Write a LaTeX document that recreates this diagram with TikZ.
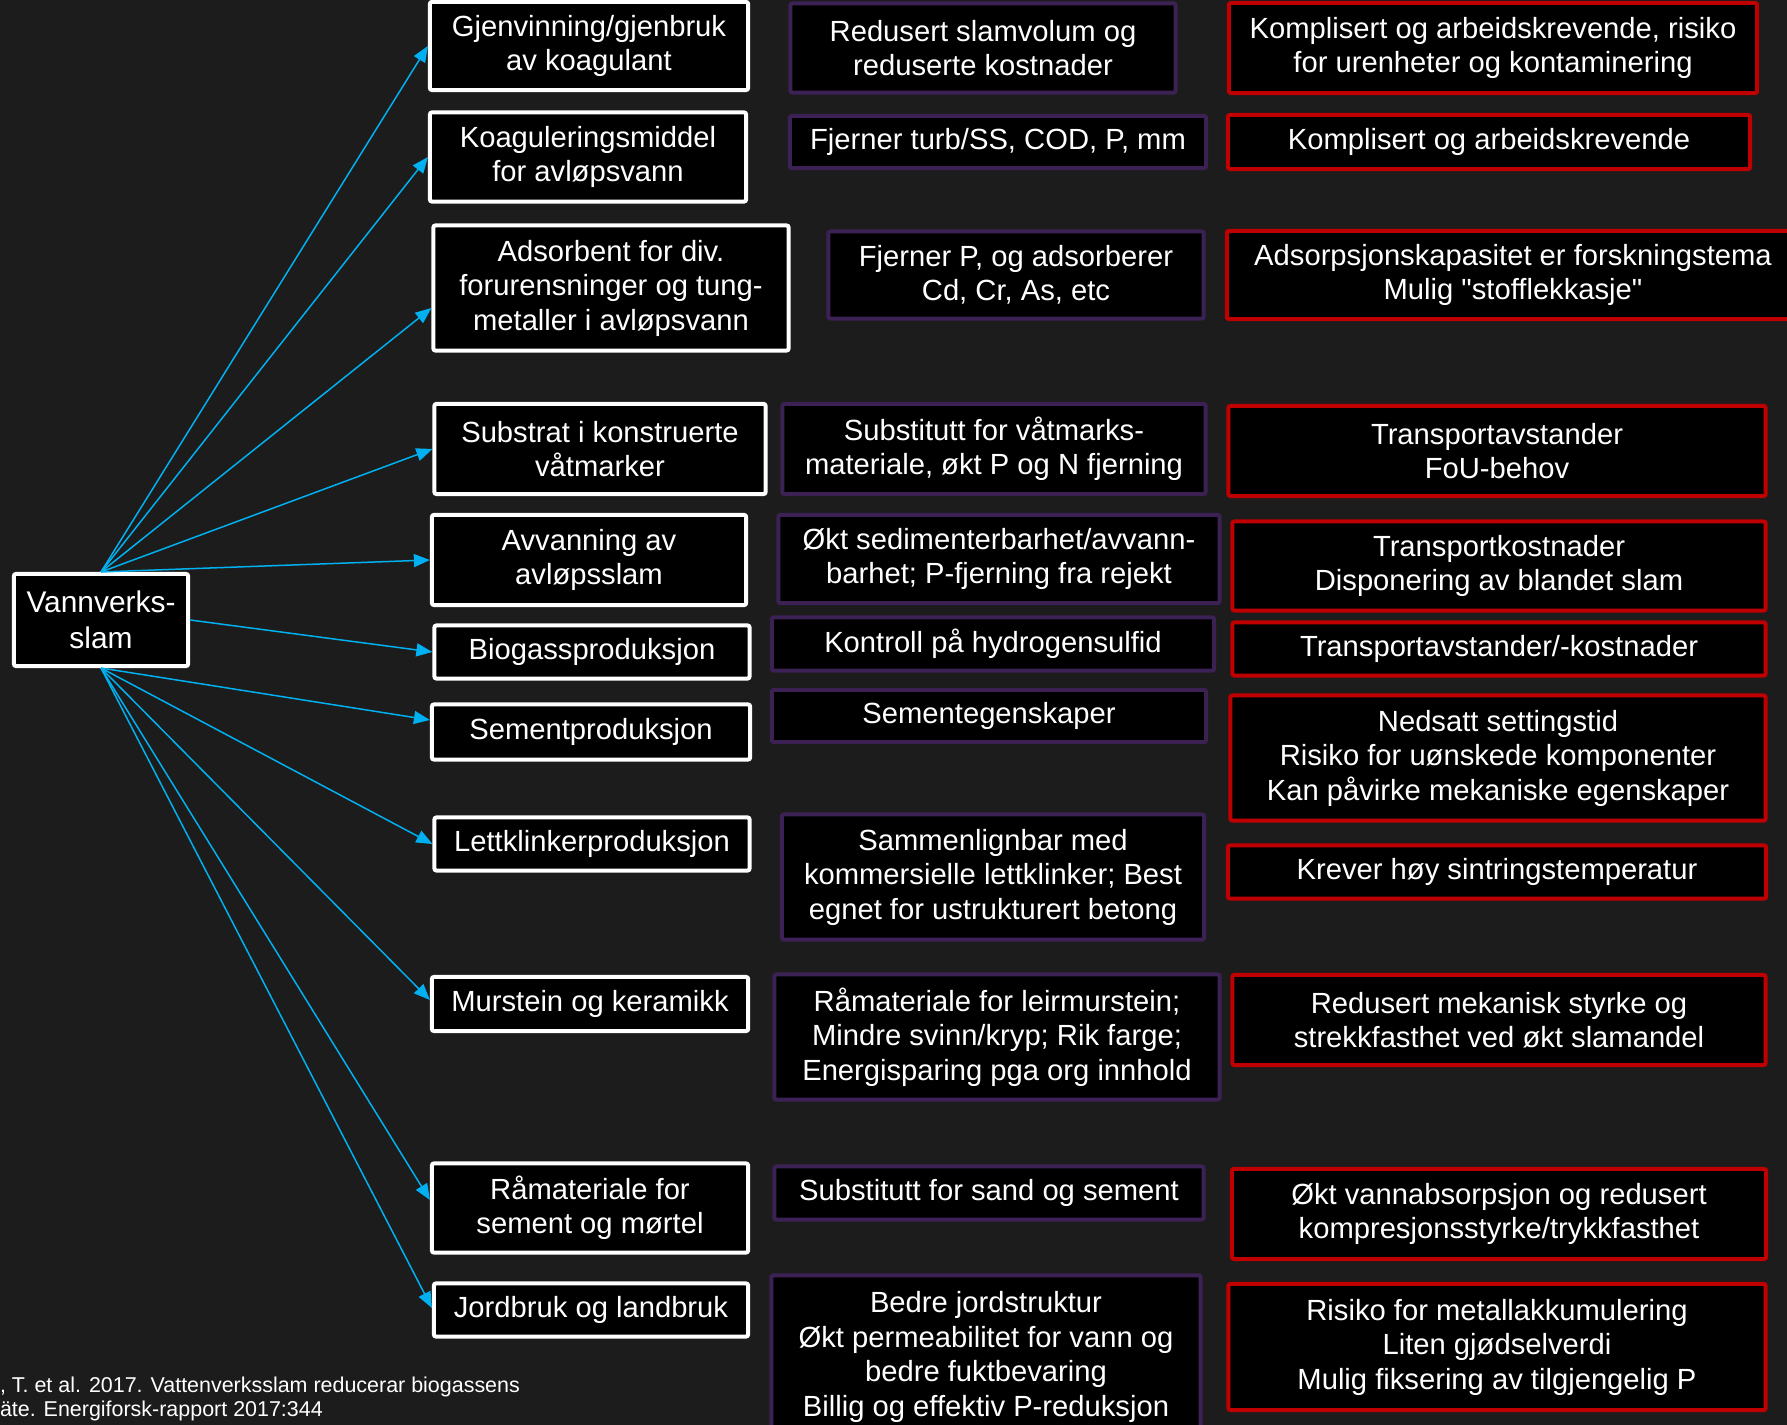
\documentclass[tikz,border=0pt]{standalone}
\usepackage{fontspec}
\setmainfont{Liberation Sans}
\usetikzlibrary{arrows.meta}

\definecolor{bakgrunn}{HTML}{1C1C1C}
\definecolor{pilblaa}{HTML}{00B0F0}
\definecolor{morkrod}{HTML}{C00000}
\definecolor{lilla}{HTML}{3C2254}

\begin{document}
\begin{tikzpicture}[x=0.01cm, y=-0.01cm,
  every node/.style={fill=black, text=white, align=center, inner sep=0pt, line width=0.04cm, rounded corners=0.02cm, font=\fontsize{8.3}{9.8}\selectfont},
  bruk/.style={draw=white},
  fordel/.style={draw=lilla},
  ulempe/.style={draw=morkrod},
  pil/.style={draw=pilblaa, line width=0.015cm, -{Triangle[length=0.16cm, width=0.13cm]}}]

\fill[bakgrunn] (0,0) rectangle (1787,1425);
\useasboundingbox (0,0) rectangle (1787,1425);

% kilde
\node[bruk] (v) at (101,620) [minimum width=1.74cm, minimum height=0.92cm, font=\fontsize{8.5}{10.4}\selectfont] {Vannverks-\\slam};

% bruksomraader
\node[bruk, minimum width=3.18cm, minimum height=0.88cm] (u1) at (589,46) {Gjenvinning/gjenbruk\\av koagulant};
\node[bruk, minimum width=3.16cm, minimum height=0.89cm] (u2) at (588,157) {Koaguleringsmiddel\\for avløpsvann};
\node[bruk, minimum width=3.55cm, minimum height=1.25cm] (u3) at (611,288) {Adsorbent for div.\\forurensninger og tung-\\metaller i avløpsvann};
\node[bruk, minimum width=3.31cm, minimum height=0.90cm] (u4) at (600,449) {Substrat i konstruerte\\våtmarker};
\node[bruk, minimum width=3.14cm, minimum height=0.90cm] (u5) at (589,560) {Avvanning av\\avløpsslam};
\node[bruk, minimum width=3.15cm, minimum height=0.53cm] (u6) at (592,652) {Biogassproduksjon};
\node[bruk, minimum width=3.18cm, minimum height=0.55cm] (u7) at (591,732) {Sementproduksjon};
\node[bruk, minimum width=3.15cm, minimum height=0.53cm] (u8) at (592,844) {Lettklinkerproduksjon};
\node[bruk, minimum width=3.16cm, minimum height=0.54cm] (u9) at (590,1004) {Murstein og keramikk};
\node[bruk, minimum width=3.16cm, minimum height=0.89cm] (u10) at (590,1208) {Råmateriale for\\sement og mørtel};
\node[bruk, minimum width=3.14cm, minimum height=0.53cm] (u11) at (591,1310) {Jordbruk og landbruk};

% fordeler
\node[fordel, minimum width=3.85cm, minimum height=0.89cm] (b1) at (983,48) {Redusert slamvolum og\\reduserte kostnader};
\node[fordel, minimum width=4.16cm, minimum height=0.52cm] (b2) at (998,142) {Fjerner turb/SS, COD, P, mm};
\node[fordel, minimum width=3.75cm, minimum height=0.87cm] (b3) at (1016,275) {Fjerner P, og adsorberer\\Cd, Cr, As, etc};
\node[fordel, minimum width=4.23cm, minimum height=0.90cm] (b4) at (994,449) {Substitutt for våtmarks-\\materiale, økt P og N fjerning};
\node[fordel, minimum width=4.41cm, minimum height=0.88cm] (b5) at (999,559) {Økt sedimenterbarhet/avvann-\\barhet; P-fjerning fra rejekt};
\node[fordel, minimum width=4.42cm, minimum height=0.53cm] (b6) at (993,644) {Kontroll på hydrogensulfid};
\node[fordel, minimum width=4.34cm, minimum height=0.52cm] (b7) at (989,716) {Sementegenskaper};
\node[fordel, minimum width=4.22cm, minimum height=1.25cm] (b8) at (993,877) {Sammenlignbar med\\kommersielle lettklinker; Best\\egnet for ustrukturert betong};
\node[fordel, minimum width=4.45cm, minimum height=1.25cm] (b9) at (997,1037) {Råmateriale for leirmurstein;\\Mindre svinn/kryp; Rik farge;\\Energisparing pga org innhold};
\node[fordel, minimum width=4.29cm, minimum height=0.53cm] (b10) at (989,1193) {Substitutt for sand og sement};
\node[fordel, minimum width=4.29cm, minimum height=1.63cm] (b11) at (986,1357) {Bedre jordstruktur\\Økt permeabilitet for vann og\\bedre fuktbevaring\\Billig og effektiv P-reduksjon};

% ulemper
\node[ulempe, minimum width=5.28cm, minimum height=0.90cm] (n1) at (1493,48) {Komplisert og arbeidskrevende, risiko\\for urenheter og kontaminering};
\node[ulempe, minimum width=5.22cm, minimum height=0.54cm] (n2) at (1489,142) {Komplisert og arbeidskrevende};
\node[ulempe, minimum width=5.90cm, minimum height=0.88cm] (n3) at (1522,275) {};
\node[fill=none] (n3t) at (1513,275) {Adsorpsjonskapasitet er forskningstema\\Mulig \textquotedbl stofflekkasje\textquotedbl};
\node[ulempe, minimum width=5.37cm, minimum height=0.90cm] (n4) at (1497,451) {Transportavstander\\FoU-behov};
\node[ulempe, minimum width=5.33cm, minimum height=0.89cm] (n5) at (1499,566) {Transportkostnader\\Disponering av blandet slam};
\node[ulempe, minimum width=5.33cm, minimum height=0.53cm] (n6) at (1499,649) {Transportavstander/-kostnader};
\node[ulempe, minimum width=5.35cm, minimum height=1.25cm] (n7) at (1498,758) {Nedsatt settingstid\\Risiko for uønskede komponenter\\Kan påvirke mekaniske egenskaper};
\node[ulempe, minimum width=5.38cm, minimum height=0.53cm] (n8) at (1497,872) {Krever høy sintringstemperatur};
\node[ulempe, minimum width=5.33cm, minimum height=0.90cm] (n9) at (1499,1020) {Redusert mekanisk styrke og\\strekkfasthet ved økt slamandel};
\node[ulempe, minimum width=5.34cm, minimum height=0.90cm] (n10) at (1499,1214) {Økt vannabsorpsjon og redusert\\kompresjonsstyrke/trykkfasthet};
\node[ulempe, minimum width=5.37cm, minimum height=1.26cm] (n11) at (1497,1347) {Risiko for metallakkumulering\\Liten gjødselverdi\\Mulig fiksering av tilgjengelig P};

% referanse
\node[fill=none, anchor=west, align=left, font=\fontsize{6.1}{6.9}\selectfont] (ref) at (-2,1399) {, T. et al. 2017. Vattenverksslam reducerar biogassens\\äte. Energiforsk-rapport 2017:344};

% piler
\foreach \i/\s in {1/0,2/0,3/-0.2,4/0,5/0} {
    \draw[pil] (v.north) -- ([yshift=\s cm]u\i.west);
}
\draw[pil] (v.east) -- (u6.west);
\foreach \i/\s in {7/0.12,8/0,9/0.04,10/0.08,11/0.02} {
    \draw[pil] (v.south) -- ([yshift=\s cm]u\i.west);
}

\end{tikzpicture}
\end{document}
